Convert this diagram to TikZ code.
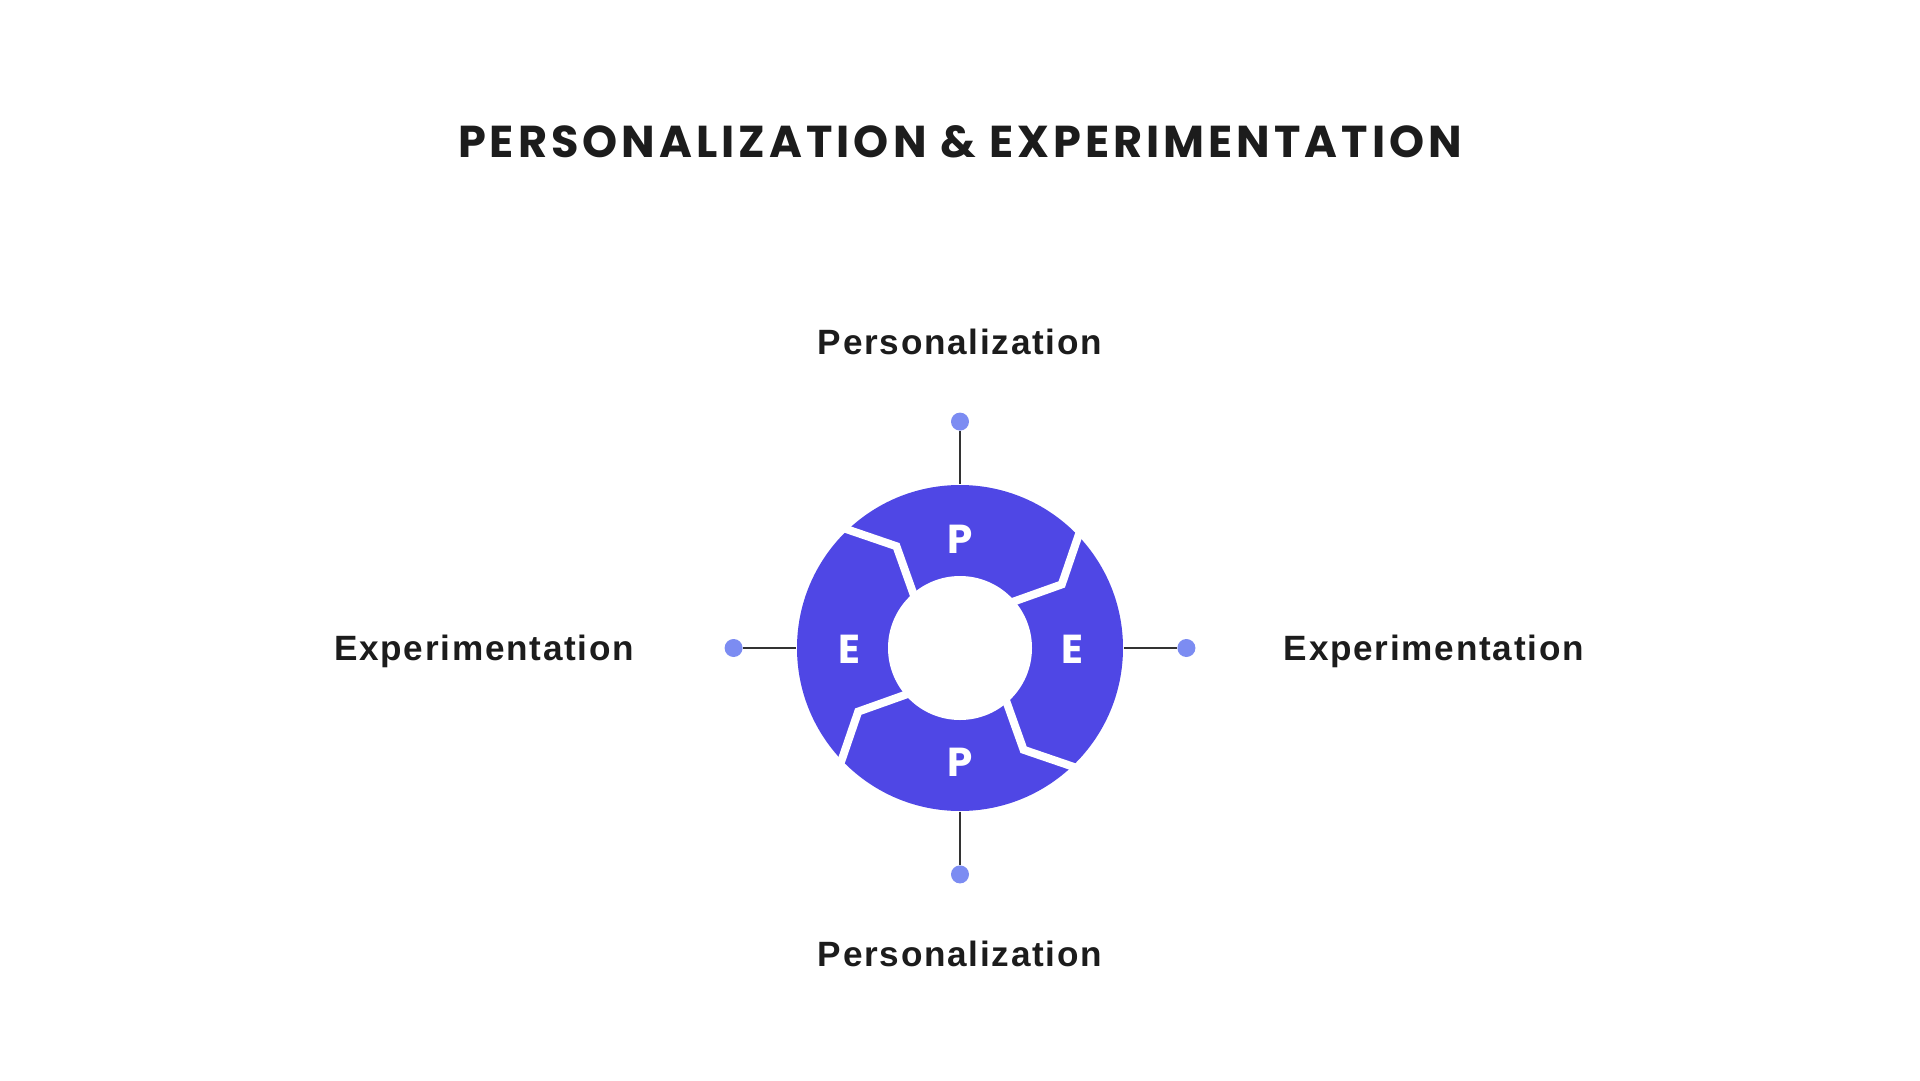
\documentclass[tikz,border=0pt]{standalone}
\usepackage{fontspec}
\setmainfont{Liberation Sans}
\newfontfamily\heavyfont{Poppins}
\usetikzlibrary{positioning}
\definecolor{ringblue}{HTML}{4F47E5}
\definecolor{dotblue}{HTML}{7C8CF2}
\definecolor{inkgray}{HTML}{1C1C1C}
\definecolor{stemgray}{HTML}{333333}

\begin{document}
\begin{tikzpicture}
    [x=0.1mm,y=0.1mm,node distance=5.3mm,
    ring/.style={circle,fill=ringblue,minimum size=32.6mm,inner sep=0pt},
    hole/.style={circle,fill=white,minimum size=14.4mm,inner sep=0pt},
    dot/.style={circle,fill=dotblue,minimum size=1.8mm,inner sep=0pt},
    stem/.style={draw=stemgray,line width=0.2mm},
    cut/.style={draw=white,line width=0.8mm},
    letter/.style={text=white,inner sep=0pt,font=\heavyfont\fontsize{11.5}{13}\selectfont\bfseries},
    caption/.style={text=inkgray,inner sep=0pt,text depth=0pt,
        font=\fontsize{10}{12}\selectfont\bfseries\addfontfeature{LetterSpace=5}},
    headline/.style={text=inkgray,inner sep=0pt,
        font=\heavyfont\fontsize{12.7}{15}\selectfont\bfseries\addfontfeature{LetterSpace=9}}]
    % 背景和页面大小
    \fill[white] (0,0) rectangle (1920,1080);
    \useasboundingbox (0,0) rectangle (1920,1080);
    % 标题
    \node [headline,anchor=base] (title) at (960,923) {PERSONALIZATION \& EXPERIMENTATION};
    % 中间的圆环
    \node [ring] (ring) at (960,432) {};
    \begin{scope}[shift={(ring.center)}]
        \foreach \a in {45,135,225,315}
            \draw [cut] (\a:60) -- ({\a-13}:120) -- (\a:172);
    \end{scope}
    \node [hole] (hole) at (ring.center) {};
    \node [letter] (pTop) at (960,541) {P};
    \node [letter] (pBot) at (960,318) {P};
    \node [letter] (eLeft) at (849,431) {E};
    \node [letter] (eRight) at (1072,431) {E};
    % 四个方向的圆点和连线
    \node [dot] (dotT) [above=of ring] {};
    \node [dot] (dotB) [below=of ring] {};
    \node [dot] (dotL) [left=of ring] {};
    \node [dot] (dotR) [right=of ring] {};
    \draw [stem] (dotT) -- (ring.north);
    \draw [stem] (dotB) -- (ring.south);
    \draw [stem] (dotL) -- (ring.west);
    \draw [stem] (dotR) -- (ring.east);
    % 文字标签
    \node [caption] (capT) [above=5.7mm of dotT] {Personalization};
    \node [caption] (capB) [below=5.6mm of dotB] {Personalization};
    \node [caption] (capL) [left=8.9mm of dotL] {Experimentation};
    \node [caption] (capR) [right=8.7mm of dotR] {Experimentation};
\end{tikzpicture}
\end{document}
